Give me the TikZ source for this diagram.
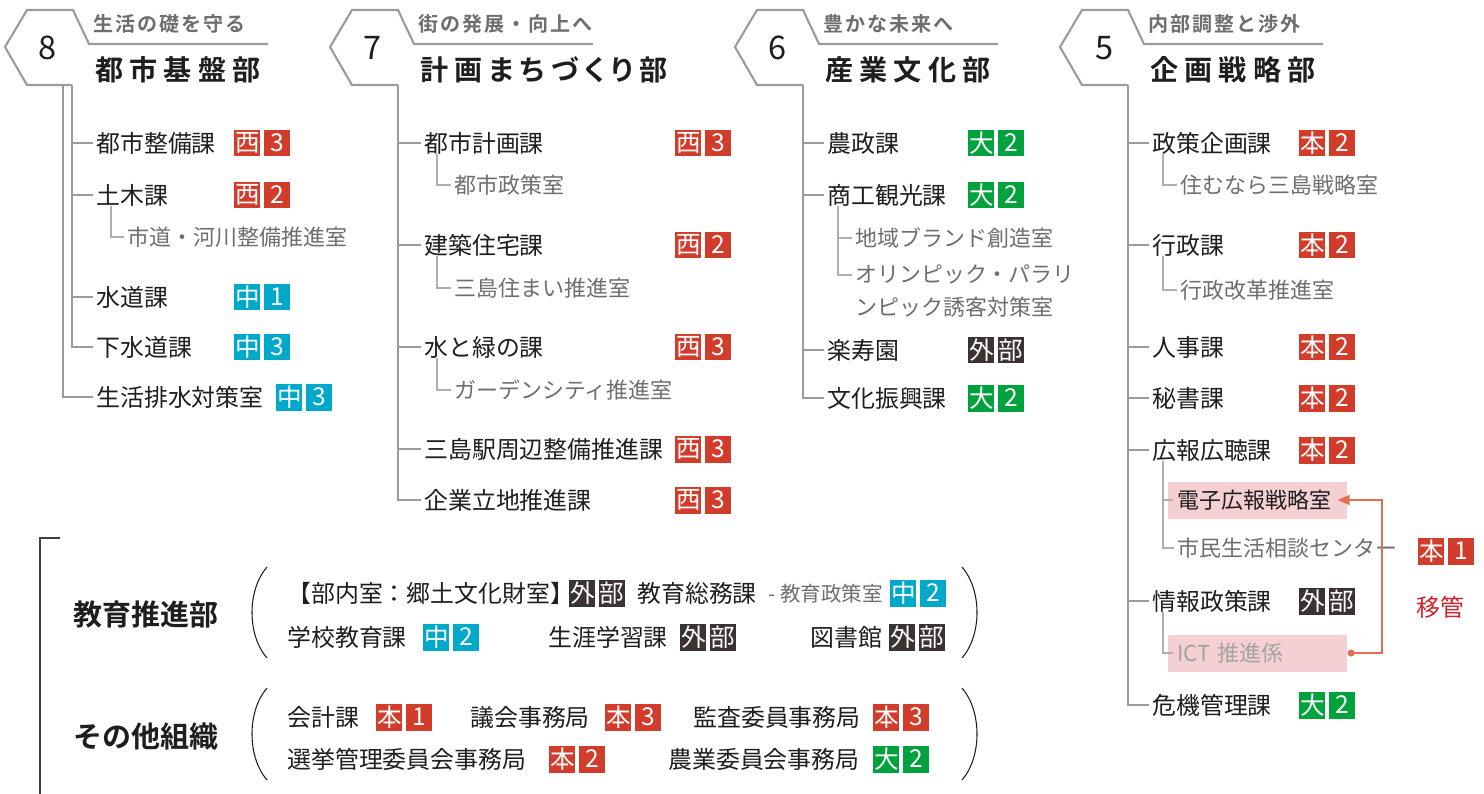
\documentclass[tikz,border=0pt]{standalone}
\usepackage{fontspec}
\setmainfont{Noto Sans CJK JP}[BoldFont={Noto Sans CJK JP Bold}]
\newfontfamily\titlefont{Noto Sans CJK JP Bold}[LetterSpace=22,RawFeature=+palt]
\newfontfamily\leadfont{Noto Sans CJK JP Bold}[LetterSpace=10]
\usepackage{xcolor}
\usepackage{tikz}
\usetikzlibrary{positioning,arrows.meta}

\definecolor{linegray}{HTML}{9B9B9B}
\definecolor{subgray}{HTML}{6E6E6E}
\definecolor{inkblack}{HTML}{1E1E1E}
\definecolor{ictgray}{HTML}{A3A3A3}
\definecolor{honred}{HTML}{D23C2B}
\definecolor{nakacyan}{HTML}{00A9C9}
\definecolor{daigreen}{HTML}{00A23E}
\definecolor{gaidark}{HTML}{3B3331}
\definecolor{movepink}{HTML}{F4D0D3}
\definecolor{moveorange}{HTML}{E0704F}
\definecolor{ikanred}{HTML}{D0202E}

% two-cell location tag
\newcommand{\bdg}[5]{%
  \node[badge, fill=#3, anchor=west] (#1a) at (#2) {#4};
  \node[badge, fill=#3, right=0.06cm of #1a] (#1b) {#5};}

\begin{document}
\begin{tikzpicture}[x=0.02cm, y=-0.02cm,
    every node/.style={inner sep=0pt, text=inkblack},
    item/.style={anchor=west, font=\fontsize{13.6}{16}\selectfont},
    subitem/.style={anchor=west, text=subgray, font=\fontsize{12.5}{15}\selectfont},
    badge/.style={minimum width=0.52cm, minimum height=0.54cm, text=white, font=\fontsize{14}{15}\selectfont},
    hexline/.style={draw=linegray, line width=1.2pt},
    tree/.style={draw=linegray, line width=1.1pt, shorten >=1.5pt},
    subtree/.style={draw=linegray!80, line width=0.6pt, shorten >=1.5pt},
    deptno/.style={font=\fontsize{18.5}{20}\selectfont},
    depttitle/.style={anchor=west, font=\titlefont\fontsize{16}{18}\selectfont},
    deptlead/.style={anchor=west, text=subgray, font=\leadfont\fontsize{11.4}{13}\selectfont},
    grouptitle/.style={font=\bfseries\fontsize{16.5}{18}\selectfont},
    brace/.style={draw=inkblack, line width=0.6pt},
    bracket/.style={draw=inkblack!85, line width=1.1pt},
    movebox/.style={anchor=west, fill=movepink, minimum height=0.74cm, text width=3.22cm, inner xsep=0.18cm, align=left, font=\fontsize{12.5}{15}\selectfont},
    movearrow/.style={draw=moveorange, line width=1pt, {Circle[length=0.14cm]}-{Triangle[length=0.24cm,width=0.2cm]}},
]
\useasboundingbox (0,0) rectangle (1484,794);

% 8 
\draw[hexline] (268,44) -- (89,44) -- (73,10) -- (27,10) -- (5,47) -- (27,85) -- (72,85);
\node[deptno] (no8) at (48,48) {8};
\node[deptlead] (lead8) at (93,24) {生活の礎を守る};
\node[depttitle] (dept8) at (95,70) {都市基盤部};
\coordinate (s8a) at (72,85);
\coordinate (s8b) at (63,85);

\node[item] (toshiseibi) at (96,143) {都市整備課};
\bdg{b81}{234,143}{honred}{西}{3}
\node[item] (doboku) at (96,195) {土木課};
\bdg{b82}{234,195}{honred}{西}{2}
\node[subitem] (shido) at (127,237) {市道・河川整備推進室};
\node[item] (suido) at (96,297) {水道課};
\bdg{b83}{234,297}{nakacyan}{中}{1}
\node[item] (gesui) at (96,347) {下水道課};
\bdg{b84}{234,347}{nakacyan}{中}{3}
\node[item] (haisui) at (96,397) {生活排水対策室};
\bdg{b85}{276,397}{nakacyan}{中}{3}

\draw[tree] (s8a) |- (toshiseibi.west);
\draw[tree] (s8a) |- (doboku.west);
\draw[tree] (s8a) |- (suido.west);
\draw[tree] (s8a) |- (gesui.west);
\draw[tree] (s8b) |- (haisui.west);
\draw[subtree] ([xshift=0.3cm]doboku.south west) |- (shido.west);

% 7
\draw[hexline] (593,44) -- (414,44) -- (398,10) -- (352,10) -- (330,47) -- (352,85) -- (398,85);
\node[deptno] (no7) at (373,48) {7};
\node[deptlead] (lead7) at (418,24) {街の発展・向上へ};
\node[depttitle] (dept7) at (420,70) {計画まちづくり部};
\coordinate (s7) at (398,85);

\node[item] (toshikei) at (424,143) {都市計画課};
\bdg{b71}{675,143}{honred}{西}{3}
\node[subitem] (toshisei) at (454,185) {都市政策室};
\node[item] (kenchiku) at (424,245) {建築住宅課};
\bdg{b72}{675,245}{honred}{西}{2}
\node[subitem] (sumai) at (454,288) {三島住まい推進室};
\node[item] (midori) at (424,347) {水と緑の課};
\bdg{b73}{675,347}{honred}{西}{3}
\node[subitem] (garden) at (454,390) {ガーデンシティ推進室};
\node[item] (eki) at (424,449) {三島駅周辺整備推進課};
\bdg{b74}{675,449}{honred}{西}{3}
\node[item] (kigyo) at (424,500) {企業立地推進課};
\bdg{b75}{675,500}{honred}{西}{3}

\draw[tree] (s7) |- (toshikei.west);
\draw[tree] (s7) |- (kenchiku.west);
\draw[tree] (s7) |- (midori.west);
\draw[tree] (s7) |- (eki.west);
\draw[tree] (s7) |- (kigyo.west);
\draw[subtree] ([xshift=0.26cm]toshikei.south west) |- (toshisei.west);
\draw[subtree] ([xshift=0.26cm]kenchiku.south west) |- (sumai.west);
\draw[subtree] ([xshift=0.26cm]midori.south west) |- (garden.west);

% 6
\draw[hexline] (998,44) -- (819,44) -- (803,10) -- (757,10) -- (735,47) -- (757,85) -- (803,85);
\node[deptno] (no6) at (778,48) {6};
\node[deptlead] (lead6) at (823,24) {豊かな未来へ};
\node[depttitle] (dept6) at (825,70) {産業文化部};
\coordinate (s6) at (803,85);

\node[item] (nosei) at (827,143) {農政課};
\bdg{b61}{968,143}{daigreen}{大}{2}
\node[item] (shoko) at (827,195) {商工観光課};
\bdg{b62}{968,195}{daigreen}{大}{2}
\node[subitem] (brand) at (855,238) {地域ブランド創造室};
\node[subitem, anchor=north west, align=left, font=\fontsize{12.5}{18.8}\selectfont] (olympic) at (855,264) {オリンピック・パラリ\\ンピック誘客対策室};
\node[item] (rakuju) at (827,350) {楽寿園};
\bdg{b63}{968,350}{gaidark}{外}{部}
\node[item] (bunka) at (827,398) {文化振興課};
\bdg{b64}{968,398}{daigreen}{大}{2}

\draw[tree] (s6) |- (nosei.west);
\draw[tree] (s6) |- (shoko.west);
\draw[tree] (s6) |- (rakuju.west);
\draw[tree] (s6) |- (bunka.west);
\draw[subtree] ([xshift=0.22cm]shoko.south west) |- (brand.west);
\draw[subtree] ([xshift=0.22cm]shoko.south west) |- ([yshift=-0.22cm]olympic.north west);

% 5
\draw[hexline] (1323,44) -- (1144,44) -- (1128,10) -- (1082,10) -- (1060,47) -- (1082,85) -- (1128,85);
\node[deptno] (no5) at (1105,48) {5};
\node[deptlead] (lead5) at (1148,24) {内部調整と渉外};
\node[depttitle] (dept5) at (1150,70) {企画戦略部};
\coordinate (s5) at (1128,85);

\node[item] (seisaku) at (1152,143) {政策企画課};
\bdg{b51}{1299,143}{honred}{本}{2}
\node[subitem] (sumu) at (1180,185) {住むなら三島戦略室};
\node[item] (gyosei) at (1152,245) {行政課};
\bdg{b52}{1299,245}{honred}{本}{2}
\node[subitem] (kaikaku) at (1180,290) {行政改革推進室};
\node[item] (jinji) at (1152,347) {人事課};
\bdg{b53}{1299,347}{honred}{本}{2}
\node[item] (hisho) at (1152,398) {秘書課};
\bdg{b54}{1299,398}{honred}{本}{2}
\node[item] (koho) at (1152,450) {広報広聴課};
\bdg{b55}{1299,450}{honred}{本}{2}
\node[movebox] (denshi) at (1168,500) {電子広報戦略室};
\node[subitem] (soudan) at (1177,548) {市民生活相談センター};
\bdg{b56}{1418,551}{honred}{本}{1}
\node[item] (joho) at (1152,601) {情報政策課};
\bdg{b57}{1299,601}{gaidark}{外}{部}
\node[movebox, text=ictgray] (ict) at (1168,653) {ICT 推進係};
\node[item] (kiki) at (1152,705) {危機管理課};
\bdg{b58}{1299,705}{daigreen}{大}{2}
\node[text=ikanred, font=\fontsize{13.6}{16}\selectfont] (ikan) at (1440,607) {移管};

\draw[tree] (s5) |- (seisaku.west);
\draw[tree] (s5) |- (gyosei.west);
\draw[tree] (s5) |- (jinji.west);
\draw[tree] (s5) |- (hisho.west);
\draw[tree] (s5) |- (koho.west);
\draw[tree] (s5) |- (joho.west);
\draw[tree] (s5) |- (kiki.west);
\draw[subtree] ([xshift=0.22cm]seisaku.south west) |- (sumu.west);
\draw[subtree] ([xshift=0.22cm]gyosei.south west) |- (kaikaku.west);
\draw[subtree] ([xshift=0.22cm]koho.south west) |- ([xshift=0.16cm]denshi.west);
\draw[subtree] ([xshift=0.22cm]koho.south west) |- (soudan.west);
\draw[subtree] ([xshift=0.22cm]joho.south west) |- ([xshift=0.16cm]ict.west);
\draw[movearrow] (ict.east) -- ++(34,0) |- ([xshift=-0.2cm]denshi.east);

% other bodies
\draw[bracket] (60,538) -- (40,538) -- (40,794);
\node[grouptitle] (kyoiku) at (146,615) {教育推進部};
\node[grouptitle] (sonota) at (146,737) {その他組織};
\draw[brace] (267,567) .. controls (247,590) and (247,635) .. (267,658);
\draw[brace] (962,567) .. controls (982,590) and (982,635) .. (962,658);
\draw[brace] (267,688) .. controls (247,711) and (247,757) .. (267,780);
\draw[brace] (962,688) .. controls (982,711) and (982,757) .. (962,780);

\node[item] (kyodo) at (287,593) {【部内室：郷土文化財室】};
\bdg{g1}{569,593}{gaidark}{外}{部}
\node[item] (somu) at (637,593) {教育総務課};
\node[subitem, font=\fontsize{11.7}{14}\selectfont] (kseisaku) at (768,594) {- 教育政策室};
\bdg{g2}{890,593}{nakacyan}{中}{2}
\node[item] (gakko) at (287,637) {学校教育課};
\bdg{g3}{423,637}{nakacyan}{中}{2}
\node[item] (shogai) at (548,637) {生涯学習課};
\bdg{g4}{680,637}{gaidark}{外}{部}
\node[item] (tosho) at (810,637) {図書館};
\bdg{g5}{889,637}{gaidark}{外}{部}
\node[item] (kaikei) at (287,717) {会計課};
\bdg{g6}{376,717}{honred}{本}{1}
\node[item] (gikai) at (470,717) {議会事務局};
\bdg{g7}{605,717}{honred}{本}{3}
\node[item] (kansa) at (693,717) {監査委員事務局};
\bdg{g8}{873,717}{honred}{本}{3}
\node[item] (senkyo) at (287,759) {選挙管理委員会事務局};
\bdg{g9}{549,759}{honred}{本}{2}
\node[item] (nogyo) at (668,759) {農業委員会事務局};
\bdg{g10}{873,759}{daigreen}{大}{2}
\end{tikzpicture}
\end{document}
